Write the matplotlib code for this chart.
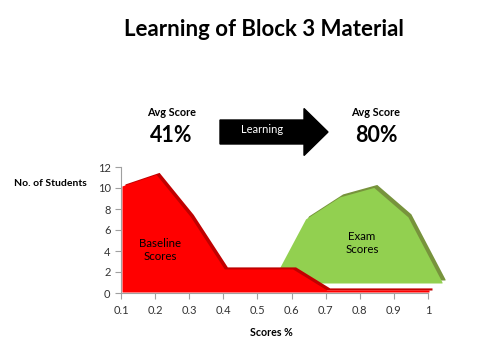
import matplotlib
matplotlib.use("Agg")
import matplotlib.pyplot as plt
import matplotlib.transforms as mtransforms
from matplotlib.patches import FancyArrow

scores = [0.1, 0.2, 0.3, 0.4, 0.5, 0.6, 0.7, 0.8, 0.9, 1.0]
baseline = [10.1, 11.2, 7.2, 2.2, 2.2, 2.2, 0.2, 0.2, 0.2, 0.2]
exam = [0, 0, 0, 0, 0, 6.1, 8.2, 9.1, 6.3, 0.1]
xticks = [0.1, 0.2, 0.3, 0.4, 0.5, 0.6, 0.7, 0.8, 0.9, 1.0]
xticklabels = ["0.1", "0.2", "0.3", "0.4", "0.5", "0.6", "0.7", "0.8", "0.9", "1"]
yticks = [0, 2, 4, 6, 8, 10, 12]

FONT = ["Lato", "DejaVu Sans"]
plt.rcParams['font.family'] = FONT

fig = plt.figure(figsize=(4.8, 3.6), dpi=100)
ax = fig.add_axes([121/480, (360-293)/360, (428-121)/480, (293-167)/360])
ax.set_xlim(0.1, 1.0)
ax.set_ylim(0, 12)

def shifted(dx_px, dy_px):
    return ax.transData + mtransforms.ScaledTranslation(dx_px/100, dy_px/100, fig.dpi_scale_trans)

# back series (exam), offset in depth
ax.fill_between(scores, 0, exam, color="#77933C", lw=0, transform=shifted(17, 13), clip_on=False, zorder=2)
ax.fill_between(scores, 0, exam, color="#92D050", lw=0, transform=shifted(14, 10), clip_on=False, zorder=3)
# front series (baseline)
ax.fill_between(scores, 0, baseline, color="#C00000", lw=0, transform=shifted(4, 3), clip_on=False, zorder=4)
ax.fill_between(scores, 0, baseline, color="#FF0000", lw=0, transform=shifted(1, 1), clip_on=False, zorder=5)

for s in ["top", "right"]:
    ax.spines[s].set_visible(False)
for s in ["left", "bottom"]:
    ax.spines[s].set_color("#A0A0A0")
    ax.spines[s].set_linewidth(0.8)
ax.set_xticks(xticks)
ax.set_xticklabels(xticklabels)
ax.set_yticks(yticks)
ax.tick_params(axis="both", colors="#A0A0A0", labelcolor="#333333", labelsize=8, length=4, width=0.8)
ax.tick_params(axis="x", pad=5)

fig.text(160/480, 1-250/360, "Baseline\nScores", ha="center", va="center", fontsize=8.3, color="black", linespacing=1.15)
fig.text(362/480, 1-243/360, "Exam\nScores", ha="center", va="center", fontsize=8.3, color="black", linespacing=1.15)

fig.text(264/480, 1-30/360, "Learning of Block 3 Material", ha="center", va="center", fontsize=16, fontweight="bold")
fig.text(50/480, 1-184/360, "No. of Students", ha="center", va="center", fontsize=7.5, fontweight="bold")
fig.text(271/480, 1-332/360, "Scores %", ha="center", va="center", fontsize=7.7, fontweight="bold")

fig.text(172/480, 1-113/360, "Avg Score", ha="center", va="center", fontsize=7.8, fontweight="bold")
fig.text(171/480, 1-135/360, "41%", ha="center", va="center", fontsize=15.5, fontweight="bold")
fig.text(376/480, 1-113/360, "Avg Score", ha="center", va="center", fontsize=7.8, fontweight="bold")
fig.text(376/480, 1-135/360, "80%", ha="center", va="center", fontsize=15.5, fontweight="bold")

# arrow
x0, x1 = 220/480, 328/480
yc = 1 - 132/360
arr = FancyArrow(x0, yc, x1 - x0, 0, width=24/360, head_width=47/360, head_length=24/480,
                 length_includes_head=True, color="black", transform=fig.transFigure, figure=fig)
fig.patches.append(arr)
fig.text(262/480, 1-129/360, "Learning", ha="center", va="center", fontsize=8, color="white")

fig.savefig("out.png", dpi=100)
